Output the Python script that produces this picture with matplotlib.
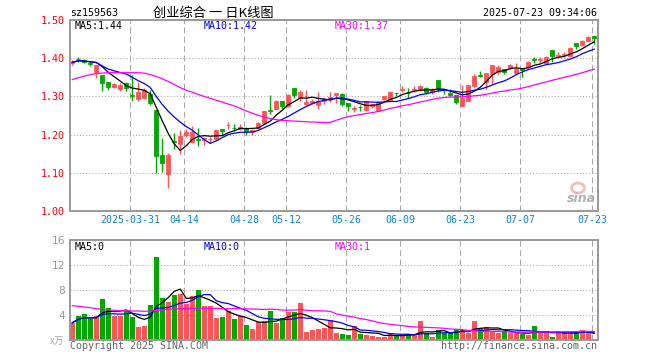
import numpy as np
import pandas as pd
import matplotlib
matplotlib.use("Agg")
import matplotlib.pyplot as plt
from matplotlib.patches import Ellipse
from matplotlib.transforms import IdentityTransform

# daily candles 2025-03-17 .. 2025-07-23
opens = [1.388, 1.399, 1.396, 1.388, 1.365, 1.355, 1.338, 1.325, 1.320, 1.336,
         1.304, 1.294, 1.296, 1.305, 1.265, 1.146, 1.097, 1.182, 1.175, 1.198,
         1.181, 1.188, 1.186, 1.188, 1.188, 1.214, 1.224, 1.218, 1.214, 1.218,
         1.206, 1.216, 1.231, 1.264, 1.268, 1.288, 1.275, 1.322, 1.296, 1.279,
         1.282, 1.277, 1.287, 1.297, 1.303, 1.307, 1.283, 1.268, 1.273, 1.265,
         1.274, 1.263, 1.292, 1.289, 1.309, 1.318, 1.310, 1.318, 1.316, 1.322,
         1.311, 1.344, 1.320, 1.310, 1.303, 1.276, 1.289, 1.328, 1.355, 1.339,
         1.359, 1.363, 1.372, 1.375, 1.361, 1.372, 1.376, 1.397, 1.396, 1.387,
         1.422, 1.407, 1.409, 1.407, 1.440, 1.435, 1.446, 1.457]
highs = [1.395, 1.404, 1.398, 1.392, 1.382, 1.356, 1.339, 1.334, 1.335, 1.338,
         1.357, 1.338, 1.322, 1.316, 1.265, 1.190, 1.153, 1.204, 1.211, 1.215,
         1.222, 1.218, 1.195, 1.193, 1.213, 1.214, 1.232, 1.228, 1.228, 1.219,
         1.214, 1.233, 1.263, 1.304, 1.290, 1.289, 1.305, 1.322, 1.318, 1.318,
         1.294, 1.311, 1.296, 1.311, 1.310, 1.308, 1.284, 1.274, 1.278, 1.289,
         1.281, 1.287, 1.300, 1.313, 1.310, 1.327, 1.322, 1.327, 1.330, 1.325,
         1.322, 1.344, 1.320, 1.320, 1.304, 1.329, 1.331, 1.359, 1.366, 1.360,
         1.381, 1.381, 1.372, 1.385, 1.387, 1.372, 1.392, 1.404, 1.403, 1.407,
         1.422, 1.416, 1.416, 1.429, 1.440, 1.447, 1.457, 1.459]
lows = [1.383, 1.390, 1.388, 1.380, 1.347, 1.313, 1.316, 1.322, 1.313, 1.313,
        1.288, 1.289, 1.294, 1.278, 1.100, 1.101, 1.061, 1.162, 1.150, 1.194,
        1.178, 1.169, 1.173, 1.179, 1.185, 1.198, 1.215, 1.209, 1.211, 1.199,
        1.200, 1.214, 1.229, 1.254, 1.266, 1.266, 1.272, 1.296, 1.289, 1.276,
        1.279, 1.268, 1.281, 1.285, 1.282, 1.274, 1.263, 1.260, 1.263, 1.263,
        1.270, 1.261, 1.290, 1.287, 1.301, 1.311, 1.296, 1.311, 1.314, 1.307,
        1.307, 1.311, 1.307, 1.300, 1.281, 1.274, 1.289, 1.325, 1.352, 1.319,
        1.332, 1.359, 1.359, 1.372, 1.359, 1.352, 1.375, 1.387, 1.387, 1.385,
        1.390, 1.403, 1.403, 1.405, 1.425, 1.433, 1.444, 1.438]
closes = [1.389, 1.398, 1.390, 1.386, 1.381, 1.334, 1.324, 1.332, 1.329, 1.322,
          1.302, 1.311, 1.316, 1.283, 1.144, 1.125, 1.146, 1.181, 1.196, 1.206,
          1.207, 1.186, 1.191, 1.189, 1.211, 1.209, 1.225, 1.216, 1.221, 1.207,
          1.212, 1.231, 1.262, 1.263, 1.288, 1.275, 1.303, 1.303, 1.311, 1.285,
          1.288, 1.287, 1.294, 1.298, 1.310, 1.279, 1.274, 1.269, 1.272, 1.288,
          1.279, 1.285, 1.300, 1.312, 1.308, 1.319, 1.309, 1.319, 1.327, 1.311,
          1.320, 1.320, 1.316, 1.303, 1.285, 1.296, 1.330, 1.354, 1.354, 1.360,
          1.381, 1.378, 1.363, 1.381, 1.372, 1.368, 1.391, 1.396, 1.397, 1.404,
          1.405, 1.408, 1.410, 1.427, 1.433, 1.446, 1.455, 1.453]
# volume, x万
volumes = [2.77, 3.84, 4.10, 3.36, 3.84, 6.56, 5.12, 3.84, 3.84, 4.64,
           3.73, 2.03, 2.24, 5.60, 13.28, 6.72, 6.13, 7.20, 7.41, 5.81,
           7.09, 8.00, 5.49, 5.39, 3.57, 3.68, 4.64, 3.41, 3.89, 2.40,
           1.76, 2.93, 3.04, 4.64, 2.72, 3.47, 4.53, 4.53, 5.97, 1.33,
           1.60, 1.71, 1.87, 3.25, 1.17, 1.01, 0.80, 2.29, 1.01, 0.85,
           0.69, 0.53, 0.53, 1.17, 0.64, 0.64, 0.96, 0.69, 3.09, 1.17,
           0.53, 1.60, 1.07, 1.28, 1.71, 1.55, 1.07, 3.09, 1.92, 2.13,
           1.39, 1.07, 1.39, 1.07, 1.07, 1.01, 0.75, 2.29, 1.07, 1.44,
           0.53, 1.23, 1.23, 1.23, 1.12, 1.60, 1.28, 0.21]
# MA30 before 30 days of data are in the window
ma30_head = [1.344, 1.349, 1.353, 1.357, 1.360, 1.361, 1.362, 1.362, 1.362, 1.362,
             1.362, 1.362, 1.361, 1.357, 1.352, 1.346, 1.339, 1.331, 1.323, 1.316,
             1.311, 1.305, 1.300, 1.295, 1.290, 1.285, 1.280, 1.275, 1.269]
vol_ma30_head = [5.49, 5.39, 5.28, 5.17, 5.01, 4.90, 4.80, 4.75, 4.69, 4.69,
                 4.64, 4.64, 4.59, 4.64, 4.75, 4.80, 4.90, 4.96, 5.01, 5.01,
                 5.07, 5.07, 5.07, 5.07, 5.07, 5.01, 5.01, 5.01, 5.01]
tick_idx = [10, 19, 29, 36, 46, 55, 65, 75, 87]
tick_labels = ["2025-03-31", "04-14", "04-28", "05-12", "05-26",
               "06-09", "06-23", "07-07", "07-23"]

o = np.array(opens)
h = np.array(highs)
l = np.array(lows)
c = np.array(closes)
v = np.array(volumes)
x = np.arange(len(c))

red, green = '#ff5555', '#00a800'
col = np.where(c >= o, red, green)

ma5 = pd.Series(c).rolling(5, min_periods=1).mean().values
ma10 = pd.Series(c).rolling(10, min_periods=1).mean().values
ma30 = pd.Series(c).rolling(30).mean().values
ma30[:29] = ma30_head
vma5 = pd.Series(v).rolling(5, min_periods=1).mean().values
vma10 = pd.Series(v).rolling(10, min_periods=1).mean().values
vma30 = pd.Series(v).rolling(30).mean().values
vma30[:29] = vol_ma30_head

W, H = 660, 360
mono = 'DejaVu Sans Mono'
fs = 7.2


def px(xp, yp):
    return xp / W, 1 - yp / H


fig = plt.figure(figsize=(6.6, 3.6), dpi=100)
ax = fig.add_axes([70 / W, 1 - 211 / H, 528 / W, 191 / H])
axv = fig.add_axes([70 / W, 1 - 340 / H, 528 / W, 100 / H])

grid_col = '#aaaaaa'
vpos = [t - 0.4 for t in tick_idx]
for a in (ax, axv):
    for t in vpos:
        a.axvline(t, color=grid_col, lw=0.75, ls=(0, (5.8, 3.2)), zorder=0)
    for s in a.spines.values():
        s.set_color('#999999')
        s.set_linewidth(1.4)
    a.set_xlim(-0.38, 87.62)
    a.tick_params(length=0)

for yv in [1.1, 1.2, 1.3, 1.4]:
    ax.axhline(yv, color=grid_col, lw=0.75, ls=(0, (1, 2)), zorder=0)
for yv in [4, 8, 12]:
    axv.axhline(yv, color=grid_col, lw=0.75, ls=(0, (1, 2)), zorder=0)

# candles
ax.vlines(x, l, h, colors=col, lw=1, zorder=2)
ax.bar(x, np.maximum(np.abs(c - o), 0.0008), bottom=np.minimum(o, c), width=0.68,
       color=col, edgecolor=col, lw=0.6, zorder=3)
ax.plot(x, ma5, color='black', lw=0.9, zorder=4)
ax.plot(x, ma10, color='#0000ff', lw=0.9, zorder=4)
ax.plot(x, ma30, color='#ff00ff', lw=0.9, zorder=4)
ax.set_ylim(1.0, 1.5)
ax.set_yticks([1.0, 1.1, 1.2, 1.3, 1.4, 1.5])
ax.set_yticklabels(['%.2f' % t for t in [1.0, 1.1, 1.2, 1.3, 1.4, 1.5]],
                   color='#ff0000', fontsize=fs, family=mono)
ax.tick_params(axis='y', pad=3.5)
ax.set_xticks(vpos)
ax.set_xticklabels(tick_labels, color='#0a86dc', fontsize=fs, family=mono)
ax.tick_params(axis='x', pad=3)

# volume
axv.bar(x, v, width=0.75, color=col, lw=0, zorder=2)
axv.plot(x, vma5, color='black', lw=0.9, zorder=4)
axv.plot(x, vma10, color='#0000ff', lw=0.9, zorder=4)
axv.plot(x, vma30, color='#ff00ff', lw=0.9, zorder=4)
axv.set_ylim(0, 16)
axv.set_yticks([4, 8, 12, 16])
axv.set_yticklabels(['4', '8', '12', '16'], color='#999999', fontsize=fs + 0.5,
                    family='DejaVu Sans')
axv.tick_params(axis='y', pad=3.5)
axv.set_xticks(vpos)
axv.set_xticklabels([])

# texts
fig.text(*px(70, 13), 'sz159563', fontsize=fs, family=mono, va='center', ha='left')
fig.text(*px(213, 13), '创业综合 一 日K线图', fontsize=9.5,
         family=['Noto Sans CJK SC', 'DejaVu Sans'], va='center', ha='center')
fig.text(*px(597, 13), '2025-07-23 09:34:06', fontsize=fs, family=mono,
         va='center', ha='right')
fig.text(*px(75, 26), 'MA5:%.2f' % ma5[-1], fontsize=fs, family=mono, va='center', color='black')
fig.text(*px(204, 26), 'MA10:%.2f' % ma10[-1], fontsize=fs, family=mono, va='center', color='#0000ff')
fig.text(*px(335, 26), 'MA30:%.2f' % ma30[-1], fontsize=fs, family=mono, va='center', color='#ff00ff')
fig.text(*px(75, 247), 'MA5:0', fontsize=fs, family=mono, va='center', color='black')
fig.text(*px(204, 247), 'MA10:0', fontsize=fs, family=mono, va='center', color='#0000ff')
fig.text(*px(335, 247), 'MA30:1', fontsize=fs, family=mono, va='center', color='#ff00ff')
fig.text(*px(64, 341), 'x万', fontsize=7, family=['Noto Sans CJK SC', 'DejaVu Sans'],
         va='center', ha='right', color='#aaaaaa', style='italic')
fig.text(*px(70, 346), 'Copyright 2025 SINA.COM', fontsize=fs, family=mono,
         va='center', ha='left', color='#666666')
fig.text(*px(597, 346), 'http://finance.sina.com.cn', fontsize=fs, family=mono,
         va='center', ha='right', color='#666666')

# sina watermark
fig.add_artist(Ellipse((578, H - 188), 13, 10, transform=IdentityTransform(),
                       facecolor='none', edgecolor='#f0a0a0', lw=2, alpha=0.7))
fig.text(*px(581, 199), 'sina', fontsize=9, fontweight='bold', style='italic',
         color='#b0b0b0', va='center', ha='center')

fig.savefig('out.png', dpi=100)
